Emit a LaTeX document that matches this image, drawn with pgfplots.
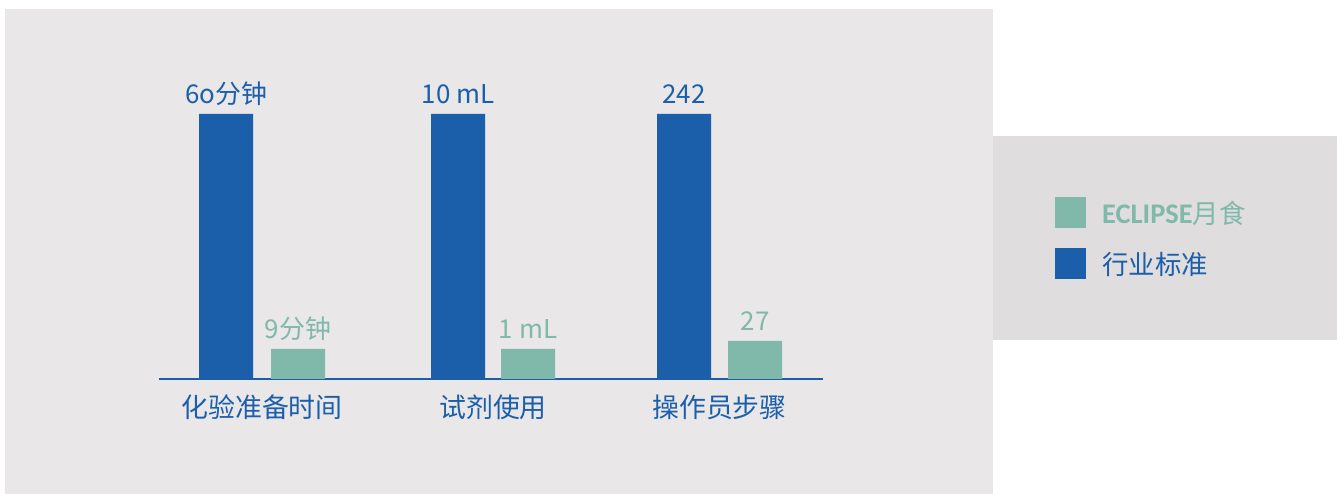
\documentclass[border=0pt]{standalone}
\usepackage{pgfplots}
\pgfplotsset{compat=1.18}
\usepackage{fontspec}
\setmainfont{Noto Sans CJK SC}
\newfontfamily\eclfont{Carlito}
\definecolor{cblue}{HTML}{1B5FAA}
\definecolor{cteal}{HTML}{80B8AA}
\definecolor{panel}{HTML}{E9E7E8}
\definecolor{lpanel}{HTML}{DFDDDE}
\begin{document}
\begin{tikzpicture}
\begin{axis}[
  set layers, clip=false,
  scale only axis, width=1343bp, height=379bp,
  xmin=0, xmax=1343, ymin=0, ymax=379,
  axis line style={draw=none}, major tick length=0pt, tick style={draw=none},
  ytick=\empty,
  xtick={262,493,719.5},
  xticklabels={化验准备时间,试剂使用,操作员步骤},
  xticklabel style={text=cblue, yshift=-12bp, font=\fontsize{27}{32}\selectfont},
  ybar, bar width=54, bar shift=0pt,
  point meta=explicit symbolic,
  legend style={draw=none, fill=none, at={(axis cs:1055,182)}, anchor=north west,
    inner sep=0pt, row sep=20bp, font=\fontsize{26.5}{31}\selectfont,
    nodes={inner sep=0pt}},
  legend cell align=left,
  legend image code/.code={\fill[#1] (0bp,-15.5bp) rectangle (31bp,15.5bp);},
]
\begin{pgfonlayer}{axis background}
\fill[panel] (axis cs:5,-115) rectangle (axis cs:993,370);
\fill[lpanel] (axis cs:993,39) rectangle (axis cs:1337,243);
\end{pgfonlayer}
\draw[cblue, line width=2.5bp] (axis cs:159,0) -- (axis cs:823,0);
\addplot[fill=cteal, draw=none, nodes near coords,
  every node near coord/.append style={anchor=base, yshift=10bp, text=cteal, font=\fontsize{26}{31}\selectfont}]
  coordinates {(298,30) [9分钟] (528,30) [1 mL] (755,38) [27]};
\addlegendentry{\hspace{16bp}\textcolor{cteal}{{\eclfont\bfseries\fontsize{28.5}{31}\selectfont ECLIPSE}月食}}
\addplot[fill=cblue, draw=none, nodes near coords,
  every node near coord/.append style={anchor=base, yshift=10bp, text=cblue, font=\fontsize{26}{31}\selectfont}]
  coordinates {(226,265) [6o分钟] (458,265) [10 mL] (684,265) [242]};
\addlegendentry{\hspace{16bp}\textcolor{cblue}{行业标准}}
\end{axis}
\end{tikzpicture}
\end{document}
